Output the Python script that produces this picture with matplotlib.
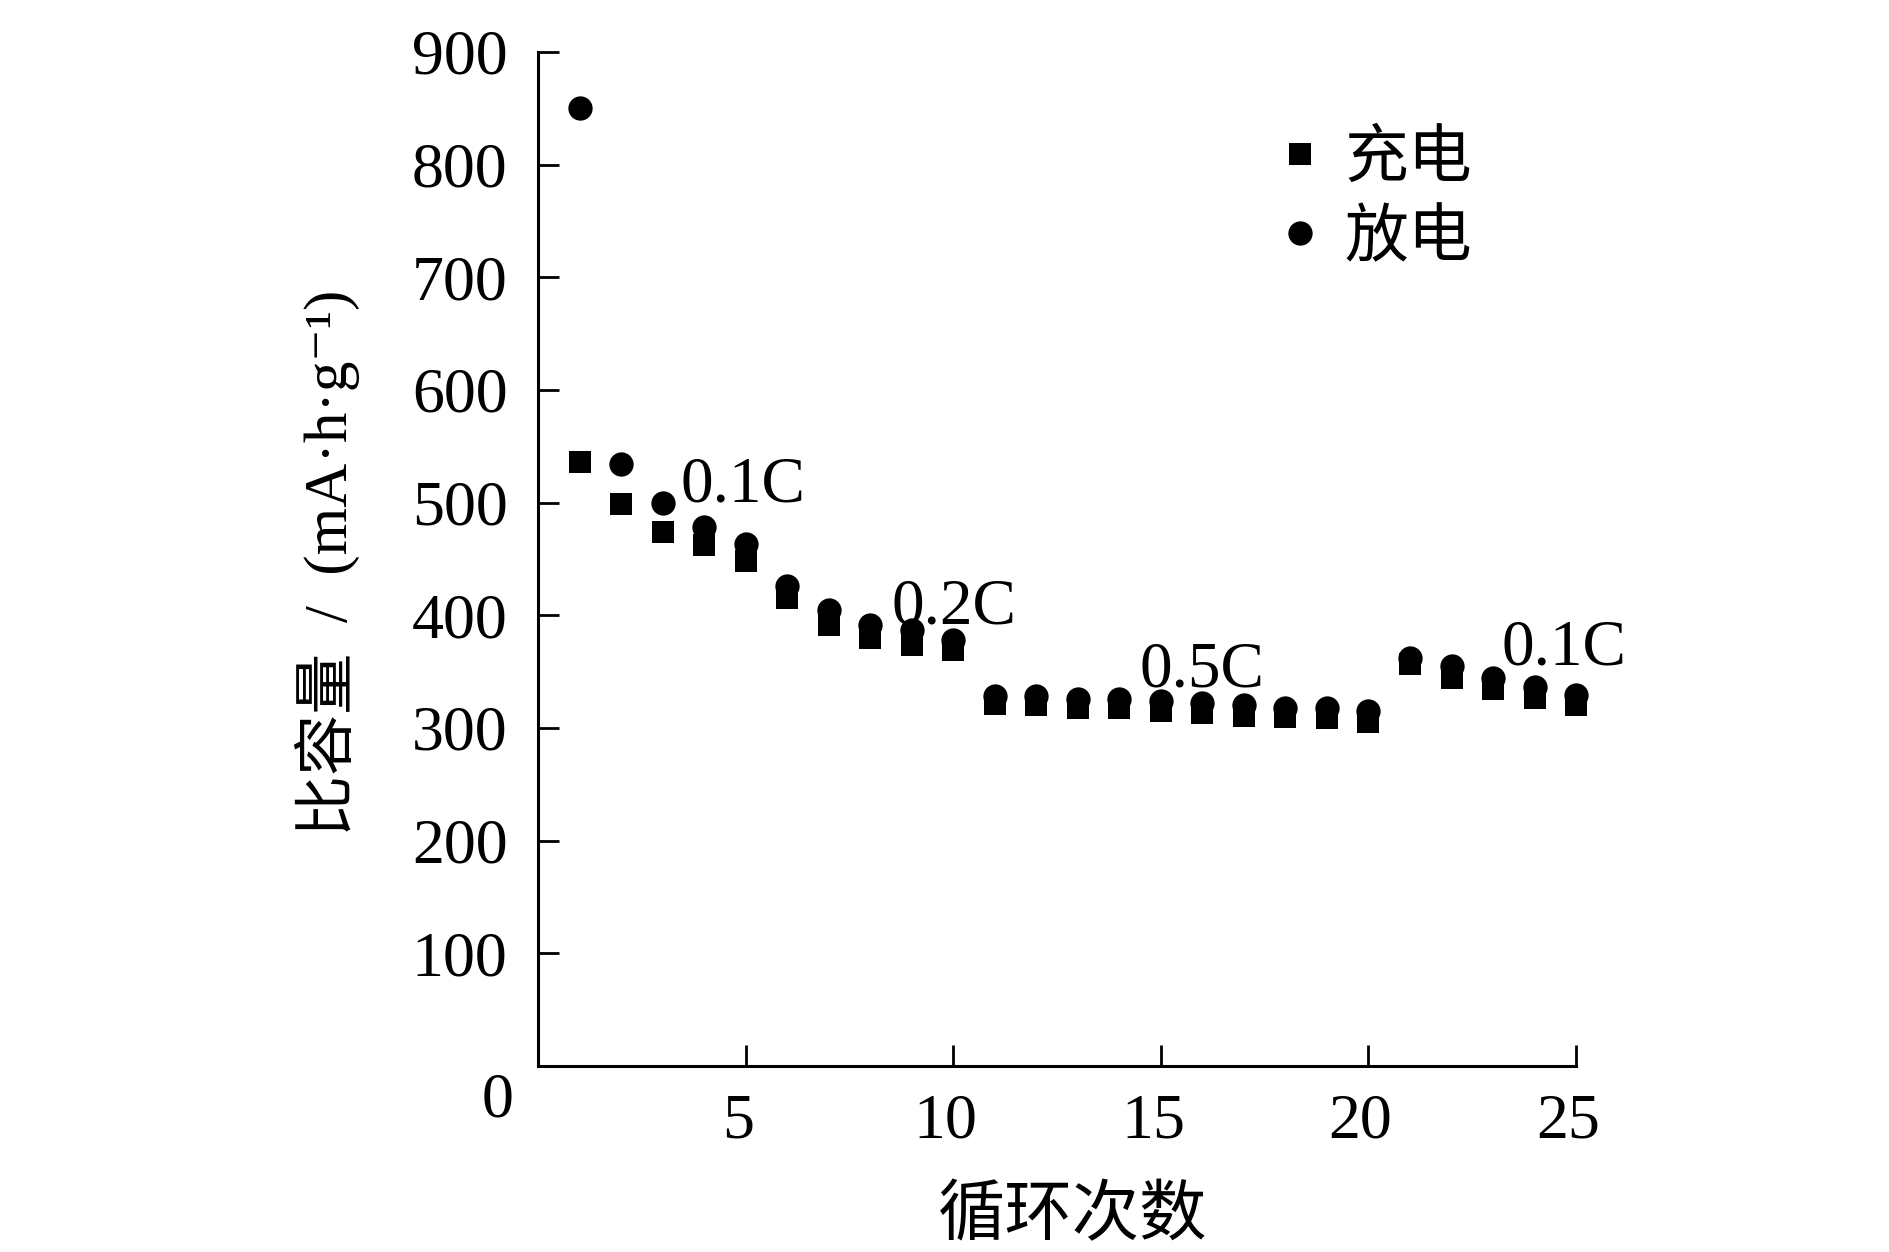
import matplotlib
matplotlib.use("Agg")
import matplotlib.pyplot as plt
import matplotlib.transforms as mtransforms

plt.rcParams['font.family'] = ['Liberation Serif', 'Noto Sans CJK SC', 'DejaVu Sans']

# ---- data ----
cycles = list(range(1, 26))
charge = [536, 499, 474, 462, 448, 415, 391, 380, 374, 369,
          321, 320, 318, 318, 315, 313, 311, 310, 309, 305,
          357, 344, 335, 327, 320]
discharge = [850, 534, 500, 478, 463, 426, 405, 391, 387, 378,
             328, 328, 326, 326, 324, 322, 320, 318, 318, 315,
             362, 355, 344, 336, 329]
series_labels = ['充电', '放电']
rate_labels = ['0.1C', '0.2C', '0.5C', '0.1C']
rate_x = [3.43, 8.52, 14.48, 23.2]
rate_y = [501, 393, 337, 356]
x_ticks = [5, 10, 15, 20, 25]
y_ticks = [100, 200, 300, 400, 500, 600, 700, 800, 900]

fig = plt.figure(figsize=(18.9, 12.52), dpi=100)
ax = fig.add_axes([0.2847, 0.1486, 0.5492, 0.8099])

l1, = ax.plot(cycles, charge, linestyle='none', marker='s', markersize=16,
              color='black', markeredgewidth=0, clip_on=False)
l2, = ax.plot(cycles, discharge, linestyle='none', marker='o', markersize=17.5,
              color='black', markeredgewidth=0, clip_on=False)

ax.set_xlim(0, 25)
ax.set_ylim(0, 900)
ax.set_xticks(x_ticks)
ax.set_yticks(y_ticks)
ax.tick_params(axis='both', direction='in', length=15, width=2, labelsize=46)
ax.tick_params(axis='x', pad=20)
ax.tick_params(axis='y', pad=22)
for s in ['top', 'right']:
    ax.spines[s].set_visible(False)
for s in ['left', 'bottom']:
    ax.spines[s].set_linewidth(2.2)

# shift x tick labels slightly left as in the reference
shift = mtransforms.ScaledTranslation(-8 / 100, 0, fig.dpi_scale_trans)
for lbl in ax.get_xticklabels():
    lbl.set_transform(lbl.get_transform() + shift)

# origin label
off = mtransforms.ScaledTranslation(-41 / 100, -36 / 100, fig.dpi_scale_trans)
ax.text(0, 0, '0', transform=ax.transAxes + off, ha='center', va='center', fontsize=46)

for lab, xx, yy in zip(rate_labels, rate_x, rate_y):
    ax.text(xx, yy, lab, ha='left', va='baseline', fontsize=47)

ax.text(-0.2033, 0.4966, '比容量  /  (mA·h·g⁻¹)', transform=ax.transAxes,
        rotation=90, ha='center', va='center', fontsize=44)
fig.text(0.5677, 0.0272, '循环次数', ha='center', va='center', fontsize=48.5)

leg = ax.legend([l1, l2], series_labels, loc='upper left',
                bbox_to_anchor=(1281 / 1890, 1 - 131 / 1252),
                bbox_transform=fig.transFigure, frameon=False, fontsize=46,
                handlelength=0.6, handletextpad=0.39, labelspacing=0.31,
                borderpad=0, borderaxespad=0)

fig.savefig('out.png', dpi=100, facecolor='white')
